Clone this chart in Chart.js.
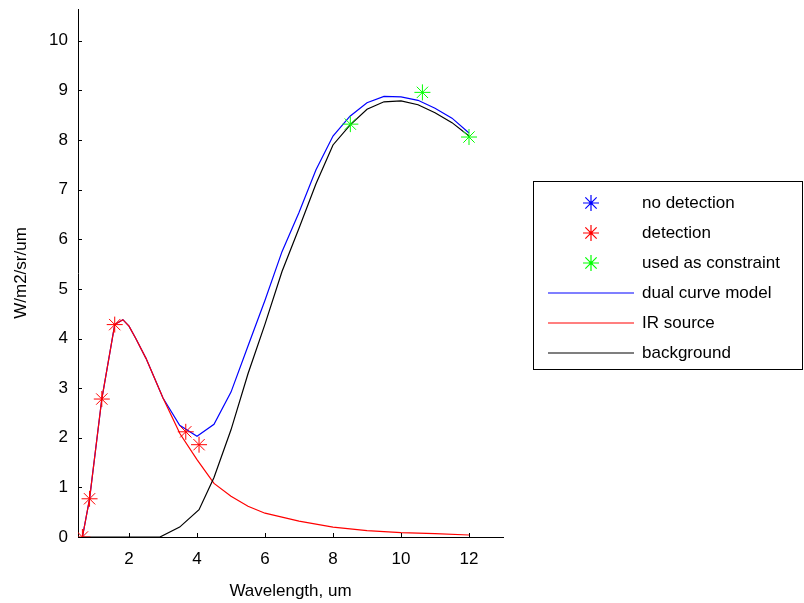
<!DOCTYPE html>
<html>
<head>
<meta charset="utf-8">
<script src="https://cdn.jsdelivr.net/npm/chart.js@4.4.1/dist/chart.umd.min.js"></script>
<style>
  html, body { margin: 0; padding: 0; background: #fff; }
  canvas { display: block; }
</style>
</head>
<body>
<canvas id="c" width="804" height="603"></canvas>
<script>
// axis setup
const X_MIN = 0.5, X_MAX = 13;
const Y_MIN = 0, Y_MAX = 10.64;
const X_TICKS = [2, 4, 6, 8, 10, 12];
const Y_TICKS = [0, 1, 2, 3, 4, 5, 6, 7, 8, 9, 10];

// measured points (stars)
const noDetX = [];
const noDetY = [];
const detX = [0.63, 0.84, 1.20, 1.58, 3.67, 4.06];
const detY = [0, 0.77, 2.78, 4.28, 2.12, 1.86];
const conX = [8.51, 10.63, 12.0];
const conY = [8.32, 8.96, 8.06];

// curves
const dualX = [0.63, 0.84, 1.20, 1.58, 1.82, 2.0, 2.2, 2.5, 3.0, 3.49, 4.0, 4.5, 5.0, 5.5, 6.0, 6.5, 7.0, 7.5, 8.0, 8.5, 9.0, 9.5, 10.0, 10.5, 11.0, 11.5, 12.0];
const dualY = [0, 0.77, 2.78, 4.28, 4.38, 4.25, 4.0, 3.6, 2.8, 2.25, 2.03, 2.27, 2.92, 3.85, 4.77, 5.75, 6.54, 7.4, 8.08, 8.48, 8.75, 8.88, 8.87, 8.8, 8.64, 8.44, 8.14];
const irX = [0.63, 0.84, 1.20, 1.58, 1.82, 2.0, 2.2, 2.5, 3.0, 3.5, 4.0, 4.5, 5.0, 5.5, 6.0, 6.5, 7.0, 8.0, 9.0, 10.0, 11.0, 12.0];
const irY = [0, 0.77, 2.78, 4.28, 4.38, 4.25, 4.0, 3.6, 2.8, 2.08, 1.56, 1.08, 0.82, 0.62, 0.48, 0.4, 0.32, 0.2, 0.13, 0.09, 0.07, 0.04];
const bgX = [0.63, 1.5, 2.3, 2.91, 3.49, 4.06, 4.5, 5.0, 5.5, 6.0, 6.5, 7.0, 7.5, 8.0, 8.5, 9.0, 9.5, 10.0, 10.5, 11.0, 11.5, 12.0];
const bgY = [0, 0, 0, 0, 0.2, 0.55, 1.2, 2.16, 3.29, 4.29, 5.35, 6.22, 7.12, 7.9, 8.3, 8.62, 8.77, 8.79, 8.71, 8.55, 8.35, 8.08];

const FONT = '"Liberation Sans", Arial, sans-serif';
const pts = (xs, ys) => xs.map((x, i) => ({ x, y: ys[i] }));

function starSet(label, xs, ys, color, order) {
  return {
    label, data: pts(xs, ys), showLine: false, order,
    pointStyle: 'star', pointRadius: 8, pointBorderColor: color,
    pointBackgroundColor: color, pointBorderWidth: 1, swatch: color, kind: 'marker'
  };
}
function lineSet(label, xs, ys, color, order) {
  return {
    label, data: pts(xs, ys), showLine: true, order,
    borderColor: color, borderWidth: 1.2, pointRadius: 0, tension: 0, swatch: color, kind: 'line'
  };
}

/* === inward tick marks === */
const innerTicksPlugin = {
  id: 'innerTicks',
  afterDatasetsDraw(chart) {
    const ctx = chart.ctx;
    const { left, bottom } = chart.chartArea;
    const xs = chart.scales.x, ys = chart.scales.y;
    ctx.save();
    ctx.strokeStyle = '#000';
    ctx.lineWidth = 1;
    ctx.beginPath();
    X_TICKS.forEach(v => {
      const px = Math.round(xs.getPixelForValue(v)) + 0.5;
      ctx.moveTo(px, bottom);
      ctx.lineTo(px, bottom - 4);
    });
    Y_TICKS.forEach(v => {
      const py = Math.round(ys.getPixelForValue(v)) + 0.5;
      ctx.moveTo(left, py);
      ctx.lineTo(left + 4, py);
    });
    ctx.stroke();
    ctx.restore();
  }
};

/* === boxed legend on the right === */
const boxLegendPlugin = {
  id: 'boxLegend',
  afterDraw(chart) {
    const ctx = chart.ctx;
    ctx.save();
    ctx.fillStyle = '#fff';
    ctx.fillRect(533, 181, 270, 189);
    ctx.strokeStyle = '#000';
    ctx.lineWidth = 1;
    ctx.strokeRect(533.5, 181.5, 269, 188);

    ctx.font = '17px ' + FONT;
    ctx.textBaseline = 'middle';
    ctx.textAlign = 'left';
    chart.data.datasets.forEach((ds, i) => {
      const y = 203 + i * 30;
      const col = ds.swatch;
      ctx.strokeStyle = col;
      ctx.fillStyle = col;
      ctx.lineWidth = 1.2;
      ctx.beginPath();
      if (ds.kind === 'marker') {
        const r = 8;
        for (let k = 0; k < 4; k++) {
          const a = k * Math.PI / 4;
          ctx.moveTo(591 - r * Math.cos(a), y - r * Math.sin(a));
          ctx.lineTo(591 + r * Math.cos(a), y + r * Math.sin(a));
        }
        ctx.stroke();
        ctx.beginPath();
        ctx.arc(591, y, 1.5, 0, Math.PI * 2);
        ctx.fill();
      } else {
        ctx.moveTo(548, y);
        ctx.lineTo(634, y);
        ctx.stroke();
      }
      ctx.fillStyle = '#000';
      ctx.fillText(ds.label, 642, y);
    });
    ctx.restore();
  }
};

const tickFont = { family: FONT, size: 17 };

new Chart(document.getElementById('c'), {
  type: 'scatter',
  data: {
    datasets: [
      starSet('no detection', noDetX, noDetY, '#0000ff', 1),
      starSet('detection', detX, detY, '#ff0000', 2),
      starSet('used as constraint', conX, conY, '#00ff00', 3),
      lineSet('dual curve model', dualX, dualY, '#0000ff', 6),
      lineSet('IR source', irX, irY, '#ff0000', 5),
      lineSet('background', bgX, bgY, '#000000', 4)
    ]
  },
  options: {
    responsive: false,
    animation: false,
    layout: { padding: { top: 0, right: 301, bottom: 0, left: 0 } },
    plugins: { legend: { display: false }, tooltip: { enabled: false } },
    scales: {
      x: {
        type: 'linear', min: X_MIN, max: X_MAX,
        afterBuildTicks: s => { s.ticks = X_TICKS.map(v => ({ value: v })); },
        afterFit: s => { s.height = 66; },
        grid: { drawOnChartArea: false, drawTicks: false },
        border: { display: true, color: '#000', width: 1 },
        ticks: { color: '#000', font: tickFont, padding: 12, maxRotation: 0 },
        title: { display: true, text: 'Wavelength, um', color: '#000', font: tickFont, padding: { top: 0, bottom: 1 } }
      },
      y: {
        type: 'linear', min: Y_MIN, max: Y_MAX,
        afterBuildTicks: s => { s.ticks = Y_TICKS.map(v => ({ value: v })); },
        afterFit: s => { s.width = 78; s.paddingTop = 0; },
        grid: { drawOnChartArea: false, drawTicks: false },
        border: { display: true, color: '#000', width: 1 },
        ticks: { color: '#000', font: tickFont, padding: 10 },
        title: { display: true, text: 'W/m2/sr/um', color: '#000', font: tickFont, padding: { top: 11, bottom: 0 } }
      }
    }
  },
  plugins: [innerTicksPlugin, boxLegendPlugin]
});
</script>
</body>
</html>
